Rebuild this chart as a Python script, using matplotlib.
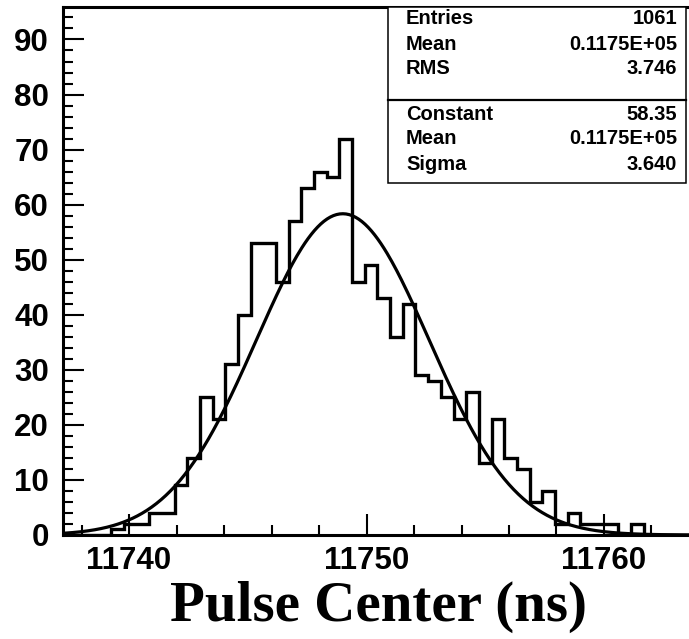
import matplotlib
matplotlib.use("Agg")
import matplotlib.pyplot as plt
import numpy as np
from matplotlib.patches import Rectangle
from matplotlib.ticker import MultipleLocator

# histogram: 50 bins
BIN_LO = 11737.11
BIN_W = 0.534
COUNTS = [0, 0, 0, 0, 1, 2, 2, 4, 4, 9, 14, 25, 21, 31, 40, 53, 53, 46, 57, 63,
          66, 65, 72, 46, 49, 43, 36, 42, 29, 28, 25, 21, 26, 13, 21, 14, 12, 6, 8, 2,
          4, 2, 2, 2, 0, 2, 0, 0, 0, 0]

# gaussian fit parameters
FIT_CONST = 58.35
FIT_MEAN = 11749.0
FIT_SIGMA = 3.640

STAT_LABELS = ["Entries", "Mean", "RMS", "Constant", "Mean", "Sigma"]
STAT_VALUES = ["1061", "0.1175E+05", "3.746", "58.35", "0.1175E+05", "3.640"]

XLIM = (11737.22, 11763.79)
YLIM = (0, 95.9)

W, H = 689, 639
fig = plt.figure(figsize=(W / 100, H / 100), dpi=100)

# axes placed in pixel terms
left, right, top, bottom = 63, 694, 7, 535
ax = fig.add_axes([left / W, 1 - bottom / H, (right - left) / W, (bottom - top) / H])

edges = BIN_LO + BIN_W * np.arange(len(COUNTS) + 1)
ax.stairs(COUNTS, edges, color="black", lw=2.4, baseline=0)

xs = np.linspace(XLIM[0], XLIM[1], 400)
ys = FIT_CONST * np.exp(-0.5 * ((xs - FIT_MEAN) / FIT_SIGMA) ** 2)
ax.plot(xs, ys, color="black", lw=2.3)

ax.set_xlim(*XLIM)
ax.set_ylim(*YLIM)

ax.xaxis.set_major_locator(MultipleLocator(10))
ax.xaxis.set_minor_locator(MultipleLocator(2))
ax.yaxis.set_major_locator(MultipleLocator(10))
ax.yaxis.set_minor_locator(MultipleLocator(2))
ax.tick_params(which="major", direction="in", length=15, width=1.5,
               labelsize=22.5, top=False, right=False)
ax.tick_params(which="minor", direction="in", length=7.5, width=1.5,
               top=False, right=False)
ax.tick_params(axis="x", which="major", pad=8)
ax.tick_params(axis="y", which="major", pad=10)

for lab in ax.get_xticklabels() + ax.get_yticklabels():
    lab.set_fontfamily("Liberation Sans")
    lab.set_fontweight("bold")

for sp in ax.spines.values():
    sp.set_linewidth(2.2)

# stats box
bx0, bx1 = (388 - left) / (right - left), (686 - left) / (right - left)
by_top, by_bot = 1.0, (bottom - 183) / (bottom - top)
ax.add_patch(Rectangle((bx0, by_bot), bx1 - bx0, by_top - by_bot, transform=ax.transAxes,
                       facecolor="white", edgecolor="black", lw=1.1, zorder=5, clip_on=False))
sep = (bottom - 100) / (bottom - top)
ax.plot([bx0, bx1], [sep, sep], transform=ax.transAxes, color="black", lw=1.6,
        zorder=6, clip_on=False)

row_y = [19, 44, 69, 114, 139, 164]
tx_l = (406 - left) / (right - left)
tx_r = (677 - left) / (right - left)
for yy, lab, val in zip(row_y, STAT_LABELS, STAT_VALUES):
    yf = (bottom - yy) / (bottom - top)
    ax.text(tx_l, yf, lab, transform=ax.transAxes, ha="left", va="center",
            fontsize=14.5, fontweight="bold", family="Liberation Sans", zorder=7)
    ax.text(tx_r, yf, val, transform=ax.transAxes, ha="right", va="center",
            fontsize=14.5, fontweight="bold", family="Liberation Sans", zorder=7)

fig.text((left + right) / 2 / W, 1 - 607 / H, "Pulse Center (ns)", ha="center", va="center",
         fontsize=41, fontweight="bold", family="Liberation Serif")

fig.savefig("out.png", dpi=100)
